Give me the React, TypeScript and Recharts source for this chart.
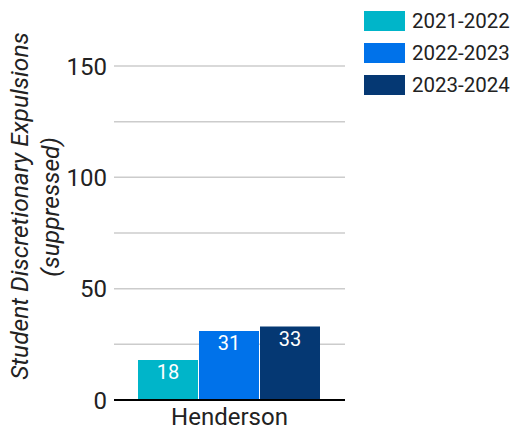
import React from "react";
import { BarChart, Bar, XAxis, YAxis, CartesianGrid, LabelList } from "recharts";

const categories = ["Henderson"];
const seriesNames = ["2021-2022", "2022-2023", "2023-2024"];
const seriesValues = [[18], [31], [33]];
const colors = ["#00b5c9", "#0072ea", "#053873"];
const yTicks = [0, 25, 50, 75, 100, 125, 150];

const data = categories.map((name, i) => {
  const row: Record<string, string | number> = { name };
  seriesNames.forEach((s, j) => {
    row[s] = seriesValues[j][i];
  });
  return row;
});

const FONT = "Roboto, sans-serif";

// rotated two-line y axis title
const AxisTitle = () => (
  <g transform="rotate(-90)" fontFamily={FONT} fontStyle="italic" fontSize={24.5} fill="#222">
    <text x={-206} y={28} textAnchor="middle">
      Student Discretionary Expulsions
    </text>
    <text x={-207} y={59} textAnchor="middle">
      (suppressed)
    </text>
  </g>
);

const LegendBox = () => (
  <div style={{ position: "absolute", left: 364, top: 5, fontFamily: FONT, fontSize: 20.5, color: "#222" }}>
    {seriesNames.map((s, i) => (
      <div key={s} style={{ display: "flex", alignItems: "center", height: 32 }}>
        <span style={{ width: 41, height: 20, background: colors[i], marginRight: 7, display: "inline-block" }} />
        <span>{s}</span>
      </div>
    ))}
  </div>
);

export default function App() {
  return (
    <div style={{ position: "absolute", left: 0, top: 0, width: 517, height: 442, background: "#fff" }}>
      <BarChart
        width={517}
        height={442}
        data={data}
        margin={{ top: 66, right: 172, bottom: 0, left: 0 }}
        barCategoryGap={24}
        barGap={1}
      >
        <CartesianGrid vertical={false} stroke="#cccccc" strokeWidth={1.5} />
        <XAxis
          dataKey="name"
          height={42}
          tickLine={false}
          axisLine={{ stroke: "#000", strokeWidth: 2 }}
          tick={{ fontFamily: FONT, fontSize: 24, fill: "#222" }}
          tickMargin={2}
        />
        <YAxis
          width={114}
          domain={[0, 150]}
          ticks={yTicks}
          interval={0}
          axisLine={false}
          tickLine={false}
          tickFormatter={(v: number) => (v % 50 === 0 ? String(v) : "")}
          tick={{ fontFamily: FONT, fontSize: 24, fill: "#222" }}
          tickMargin={1}
        />
        {seriesNames.map((s, i) => (
          <Bar key={s} dataKey={s} fill={colors[i]} isAnimationActive={false}>
            <LabelList
              dataKey={s}
              position="insideTop"
              offset={5}
              style={{ fontFamily: FONT, fontSize: 20, fill: "#fff" }}
            />
          </Bar>
        ))}
        <AxisTitle />
      </BarChart>
      <LegendBox />
    </div>
  );
}
